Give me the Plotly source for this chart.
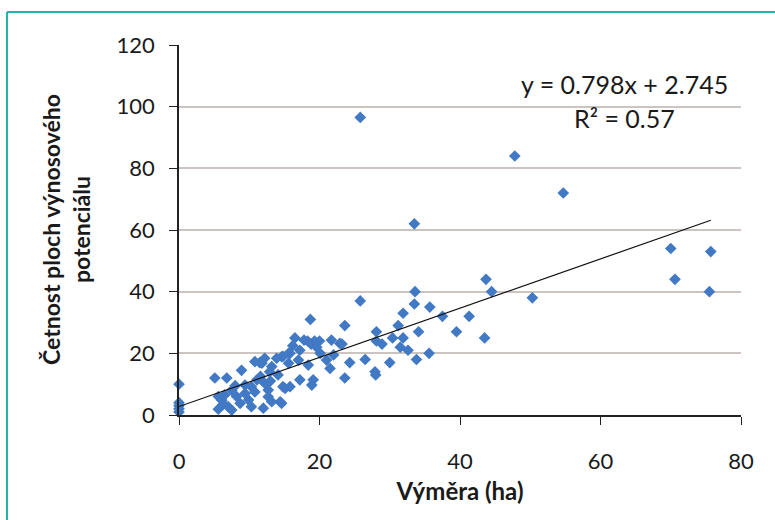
import plotly.graph_objects as go

# Data
area_ha = [
    0, 0, 0, 0, 0,
    5.1, 6.8, 8.9, 5.6, 6.1, 7.0, 5.6, 6.5, 7.5, 7.5, 8.2, 8.7, 9.4, 9.4, 9.9,
    10.3, 10.3, 10.8, 11.1, 11.5, 11.8, 12.2, 12.2, 12.7, 12.7, 12.0, 13.2, 13.2,
    14.1, 14.4, 13.9, 14.6, 15.1, 15.8, 14.8, 15.6, 14.6,
    14.8, 15.6, 15.8, 16.5, 17.2, 17.0, 17.2, 18.4, 18.7, 18.3, 18.8, 19.3, 20.0,
    18.9, 19.1, 20.1, 21.0, 21.5, 21.7, 22.9, 23.2, 23.6, 23.6, 24.3, 25.8, 25.8,
    26.5, 27.9, 28.0, 28.1, 28.1, 28.9, 30.0, 30.4, 31.2, 31.5, 31.9, 31.9, 32.6,
    33.5, 33.6, 33.5, 33.8, 34.1, 35.6, 35.7, 37.5, 39.5, 41.3, 43.5, 43.7, 44.5,
    47.8, 50.3, 54.7, 70.0, 70.6, 75.5, 75.7,
    6.3, 8.0, 10.8, 11.6, 13.0, 16.2, 17.8, 19.6, 22.0, 12.9,
]
frequency = [
    10, 4, 3, 2, 1,
    12, 12, 14.5, 6, 4.8, 2.7, 1.9, 6.5, 8, 1.6, 6, 3.8, 7, 9.7, 4.9,
    9.2, 2.7, 17.3, 11.4, 17, 16.8, 18.4, 10.3, 8.1, 5.9, 2.2, 15.7, 4.3,
    13, 4.3, 18.4, 18.9, 8.6, 9.2, 9.2, 20, 3.8,
    19, 16.8, 20, 25, 21, 17.8, 11.4, 16.2, 31, 24, 23, 24, 24,
    9.7, 11.4, 20, 17.8, 15.1, 24.3, 23.2, 23, 29, 12, 17, 37, 96.5,
    18, 14, 13, 27, 24, 23, 17, 25, 29, 22, 25, 33, 21,
    36, 40, 62, 18, 27, 20, 35, 32, 27, 32, 25, 44, 40,
    84, 38, 72, 54, 44, 40, 53,
    3.5, 9.5, 7.5, 12.5, 11.0, 22.5, 24.3, 22.0, 19.5, 14.0,
]

slope = 0.798
intercept = 2.745
r_squared = 0.57

x_ticks = [0, 20, 40, 60, 80]
y_ticks = [0, 20, 40, 60, 80, 100, 120]

FONT = "Lato"
TEXT = "#1a1a1a"

x_end = max(area_ha)
trend_x = [0, x_end]
trend_y = [intercept + slope * v for v in trend_x]

fig = go.Figure()
fig.add_trace(go.Scatter(
    x=area_ha, y=frequency, mode="markers",
    marker=dict(symbol="diamond", size=9, color="#4279c4", line=dict(width=0)),
    cliponaxis=False, showlegend=False,
))
fig.add_trace(go.Scatter(
    x=trend_x, y=trend_y, mode="lines",
    line=dict(color="#111111", width=1.2),
    showlegend=False,
))

axis_common = dict(
    showline=True, linecolor="#222222", linewidth=1.5,
    ticks="outside", ticklen=8, tickcolor="#222222", tickwidth=1.2,
    zeroline=False,
    tickfont=dict(family=FONT, size=22, color=TEXT),
)

fig.update_xaxes(
    range=[0, 80], tickvals=x_ticks, showgrid=False,
    ticklabelstandoff=18,
    title=dict(text="<b>Výměra (ha)</b>", font=dict(family=FONT, size=24, color=TEXT), standoff=10),
    **axis_common,
)
fig.update_yaxes(
    range=[0, 120], tickvals=y_ticks, showgrid=True,
    gridcolor="#cbc4c0", gridwidth=1.5,
    ticklabelstandoff=10,
    **axis_common,
)

fig.add_annotation(
    text="<b>Četnost ploch výnosového<br>potenciálu</b>",
    xref="paper", yref="paper", x=0, y=0.5, xshift=-113,
    xanchor="center", yanchor="middle", textangle=-90, showarrow=False,
    font=dict(family=FONT, size=23, color=TEXT),
)
fig.add_annotation(
    text=f"y = {slope}x + {intercept}",
    xref="paper", yref="paper", x=(624 - 179) / 562, y=(415 - 84) / 370,
    xanchor="center", yanchor="middle", showarrow=False,
    font=dict(family=FONT, size=25, color=TEXT),
)
fig.add_annotation(
    text=f"R² = {r_squared}",
    xref="paper", yref="paper", x=(624 - 179) / 562, y=(415 - 118) / 370,
    xanchor="center", yanchor="middle", showarrow=False,
    font=dict(family=FONT, size=25, color=TEXT),
)

# teal frame (top and left edges visible in the reference)
px = lambda p: (p - 179) / 562
py = lambda p: (415 - p) / 370
fig.add_shape(type="line", xref="paper", yref="paper",
              x0=px(7), y0=py(12), x1=px(800), y1=py(12),
              line=dict(color="#1fb5a8", width=2))
fig.add_shape(type="line", xref="paper", yref="paper",
              x0=px(7), y0=py(12), x1=px(7), y1=py(540),
              line=dict(color="#1fb5a8", width=2))

fig.update_layout(
    width=775, height=520,
    margin=dict(l=179, r=34, t=45, b=105),
    paper_bgcolor="white", plot_bgcolor="white",
    font=dict(family=FONT, color=TEXT),
)

fig.write_html("out.html")
